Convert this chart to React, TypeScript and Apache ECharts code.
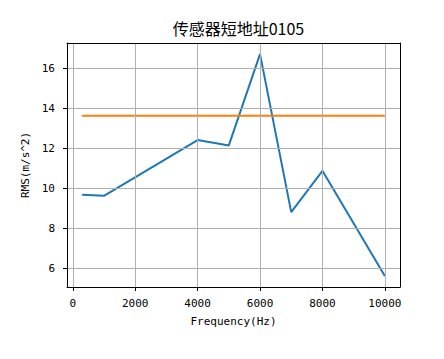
import React, { useEffect, useRef } from "react";
import * as echarts from "echarts";

const title = "传感器短地址0105";
const xName = "Frequency(Hz)";
const yName = "RMS(m/s^2)";
const frequencies = [300, 1000, 4000, 5000, 6000, 7000, 8000, 10000];
const rmsValues = [9.68, 9.63, 12.42, 12.15, 16.72, 8.81, 10.88, 5.62];
const thresholdX = [300, 10000];
const thresholdY = [13.63, 13.63];

const latin = "'DejaVu Sans Mono', monospace";

export default function App() {
  const ref = useRef<HTMLDivElement>(null);
  useEffect(() => {
    if (!ref.current) return;
    const chart = echarts.init(ref.current, null, { renderer: "svg" });
    const xMin = Math.min(...frequencies);
    const xMax = Math.max(...frequencies);
    const yMin = Math.min(...rmsValues);
    const yMax = Math.max(...rmsValues);
    const xPad = (xMax - xMin) * 0.05;
    const yPad = (yMax - yMin) * 0.05;
    const xr = { min: xMin - xPad, max: xMax + xPad };
    const yr = { min: yMin - yPad, max: yMax + yPad };
    const frameAxis = {
      type: "value",
      axisLine: { show: true, onZero: false, lineStyle: { color: "#000", width: 1 } },
      axisTick: { show: false },
      axisLabel: { show: false },
      splitLine: { show: false },
      z: 10,
    };
    chart.setOption({
      animation: false,
      backgroundColor: "#ffffff",
      title: {
        text: title,
        left: 233.5,
        textAlign: "center",
        top: 15,
        textStyle: {
          fontFamily: "'Noto Sans CJK SC'",
          fontSize: 16,
          fontWeight: "normal",
          color: "#000",
        },
      },
      grid: {
        left: 67,
        right: 44,
        top: 43,
        bottom: 72,
        show: false,
      },
      xAxis: [
        {
          type: "value",
          ...xr,
          minInterval: 2000,
          maxInterval: 2000,
          name: xName,
          nameLocation: "middle",
          nameGap: 29,
          nameTextStyle: { fontFamily: latin, fontSize: 11, color: "#000" },
          axisLine: { show: true, onZero: false, lineStyle: { color: "#000", width: 1 } },
          axisTick: { show: true, inside: false, length: 4, lineStyle: { color: "#000", width: 1 } },
          axisLabel: {
            fontFamily: latin,
            fontSize: 11,
            color: "#000",
            margin: 11,
            showMinLabel: false,
            showMaxLabel: false,
            formatter: (v: number) => (Math.abs(v % 2000) < 1e-6 ? String(v) : ""),
          },
          splitLine: { show: true, lineStyle: { color: "#b0b0b0", width: 1 } },
          z: 10,
        },
        { ...frameAxis, ...xr, position: "top" },
      ],
      yAxis: [
        {
          type: "value",
          ...yr,
          minInterval: 2,
          maxInterval: 2,
          name: yName,
          nameLocation: "middle",
          nameGap: 28,
          nameTextStyle: { fontFamily: latin, fontSize: 11, color: "#000" },
          axisLine: { show: true, onZero: false, lineStyle: { color: "#000", width: 1 } },
          axisTick: { show: true, inside: false, length: 4, lineStyle: { color: "#000", width: 1 } },
          axisLabel: {
            fontFamily: latin,
            fontSize: 11,
            color: "#000",
            margin: 12,
            showMinLabel: false,
            showMaxLabel: false,
            formatter: (v: number) => (Math.abs(v % 2) < 1e-6 ? String(v) : ""),
          },
          splitLine: { show: true, lineStyle: { color: "#b0b0b0", width: 1 } },
          z: 10,
        },
        { ...frameAxis, ...yr, position: "right" },
      ],
      series: [
        {
          type: "line",
          data: frequencies.map((f, i) => [f, rmsValues[i]]),
          showSymbol: false,
          symbol: "none",
          lineStyle: { color: "#1f77b4", width: 2 },
          itemStyle: { color: "#1f77b4" },
          z: 3,
        },
        {
          type: "line",
          data: thresholdX.map((f, i) => [f, thresholdY[i]]),
          showSymbol: false,
          symbol: "none",
          lineStyle: { color: "#ff7f0e", width: 2 },
          itemStyle: { color: "#ff7f0e" },
          z: 4,
        },
      ],
    });
    return () => chart.dispose();
  }, []);
  return (
    <div
      ref={ref}
      style={{ position: "absolute", left: 0, top: 0, width: 444, height: 359 }}
    />
  );
}
